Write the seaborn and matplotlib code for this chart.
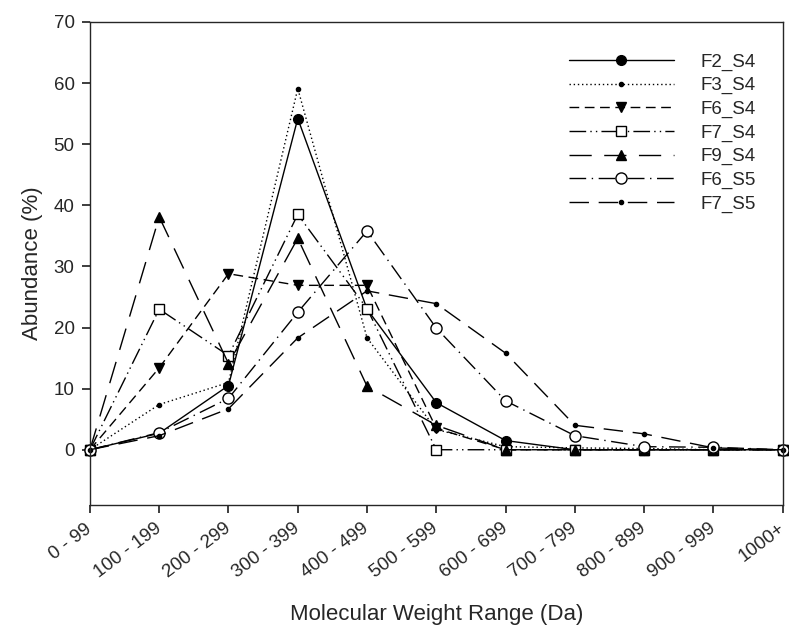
import matplotlib
matplotlib.use("Agg")
import matplotlib.pyplot as plt
import seaborn as sns

# --------------------------
# data
# --------------------------
ranges = ["0 - 99", "100 - 199", "200 - 299", "300 - 399", "400 - 499", "500 - 599",
          "600 - 699", "700 - 799", "800 - 899", "900 - 999", "1000+"]
pos = list(range(len(ranges)))

f2_s4 = [0, 2.7, 10.5, 54.2, 23.0, 7.7, 1.5, 0, 0, 0, 0]
f3_s4 = [0, 7.4, 11.0, 59.1, 18.3, 3.3, 0.5, 0.3, 0.2, 0, 0]
f6_s4 = [0, 13.4, 28.8, 26.9, 26.9, 3.5, 0, 0, 0, 0, 0]
f7_s4 = [0, 23.0, 15.4, 38.5, 23.1, 0, 0, 0, 0, 0, 0]
f9_s4 = [0, 38.1, 14.1, 34.6, 10.4, 4.0, 0, 0, 0, 0, 0]
f6_s5 = [0, 2.8, 8.4, 22.5, 35.8, 19.9, 8.0, 2.3, 0.5, 0.4, 0]
f7_s5 = [0, 2.3, 6.7, 18.3, 26.0, 23.9, 15.8, 4.0, 2.6, 0.3, 0]

# --------------------------
# style
# --------------------------
sns.set_theme(style="ticks")
plt.rcParams['font.family'] = ['Liberation Sans', 'DejaVu Sans']
plt.rcParams['axes.linewidth'] = 1.0
plt.rcParams['xtick.major.size'] = 6
plt.rcParams['ytick.major.size'] = 6

fig = plt.figure(figsize=(7.89, 6.27), dpi=100)
ax = fig.add_axes([0.114, 0.195, 0.878, 0.770])

series = [
    ("F2_S4", f2_s4, "-", "o", 7, "black"),
    ("F3_S4", f3_s4, (0, (1, 2)), "o", 3, "black"),
    ("F6_S4", f6_s4, (0, (7, 4)), "v", 7, "black"),
    ("F7_S4", f7_s4, (0, (12, 3, 1, 3, 1, 3)), "s", 7, "white"),
    ("F9_S4", f9_s4, (0, (16, 9)), "^", 7, "black"),
    ("F6_S5", f6_s5, (0, (12, 4, 1, 4)), "o", 8, "white"),
    ("F7_S5", f7_s5, (0, (14, 7)), "o", 3, "black"),
]

for name, vals, ls, mk, ms, fc in series:
    sns.lineplot(x=pos, y=vals, ax=ax, label=name, color="black", linewidth=1.0,
                 linestyle=ls, marker=mk, markersize=ms, markerfacecolor=fc,
                 markeredgecolor="black", markeredgewidth=1.0, clip_on=False)

ax.set_xlim(0, 10)
ax.set_ylim(-9, 70)
ax.set_yticks(range(0, 71, 10))
ax.set_xticks(pos)
ax.set_xticklabels(ranges, rotation=37, ha="right", va="center",
                   rotation_mode="anchor", fontsize=13.5)
ax.tick_params(axis="y", labelsize=13.5, direction="out", pad=5)
ax.tick_params(axis="x", direction="out", pad=10)

ax.set_xlabel("Molecular Weight Range (Da)", fontsize=16)
ax.xaxis.set_label_coords(0.5, -0.205)
ax.set_ylabel("Abundance (%)", fontsize=16, labelpad=8)

leg = ax.legend(loc="upper right", bbox_to_anchor=(0.985, 0.97), frameon=False,
                fontsize=13.5, handlelength=5.6, handletextpad=1.4, labelspacing=0.34)

fig.savefig("out.png", dpi=100)
